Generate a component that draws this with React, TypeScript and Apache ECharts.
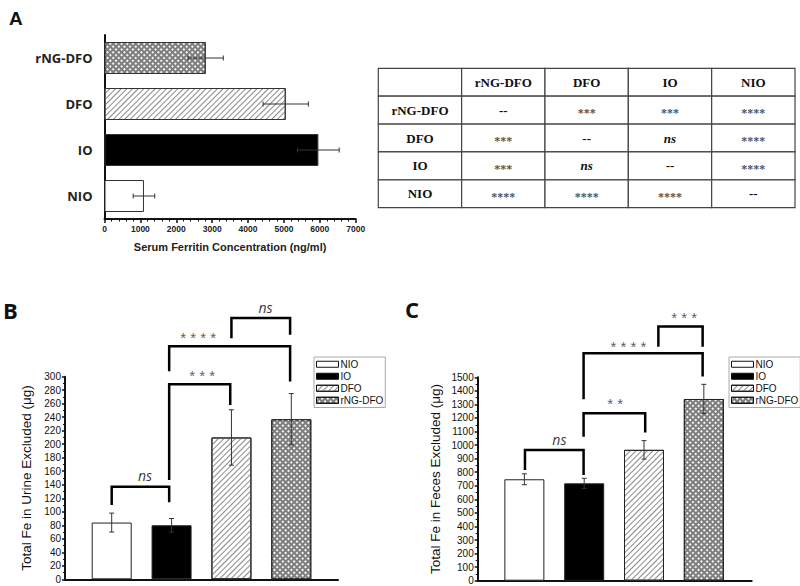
import React, { useEffect, useRef } from "react";
import * as echarts from "echarts";

const groups = ["NIO", "IO", "DFO", "rNG-DFO"];
const ferritinMean = [1100, 5960, 5050, 2820];
const ferritinErr = [300, 580, 630, 490];
const urineMean = [84, 80, 210, 237];
const urineErr = [14, 10, 41, 38];
const fecesMean = [748, 718, 965, 1340];
const fecesErr = [40, 37, 68, 108];

const tableHeader = ["", "rNG-DFO", "DFO", "IO", "NIO"];
const tableRowNames = ["rNG-DFO", "DFO", "IO", "NIO"];
const tableCells = [
  ["--", "***", "***", "****"],
  ["***", "--", "ns", "****"],
  ["***", "ns", "--", "****"],
  ["****", "****", "****", "--"],
];

// [xLeft, yLeftFoot, xRight, yRightFoot, yTop]
const urineBrackets = [
  [0, 110, 0.96, 114, 137],
  [0.96, 147, 1.98, 258, 289],
  [0.96, 308, 2.98, 293, 345],
  [2.0, 357, 2.98, 362, 387],
];
const urineMarks: [number, number, string][] = [
  [0.556, 153.5, "ns"],
  [1.51, 307.5, "***"],
  [1.446, 363.4, "****"],
  [2.57, 403, "ns"],
];
const fecesBrackets = [
  [0.01, 817, 0.99, 780, 964],
  [0.99, 1062, 2.02, 1092, 1235],
  [0.99, 1338, 2.98, 1505, 1678],
  [2.24, 1726, 2.98, 1726, 1874],
];
const fecesMarks: [number, number, string][] = [
  [0.585, 1043, "ns"],
  [1.517, 1333, "**"],
  [1.739, 1756, "****"],
  [2.67, 1968, "***"],
];

const hatch = {
  symbol: "rect",
  symbolSize: 1,
  color: "#8a8a8a",
  dashArrayX: [1, 0],
  dashArrayY: [1, 2.6],
  rotation: -Math.PI / 4,
};
const cross = {
  symbol: "rect",
  symbolSize: 1,
  color: "#f4f4f4",
  dashArrayX: [1.2, 1.8],
  dashArrayY: [1.2, 1.8],
  rotation: Math.PI / 4,
};
const groupStyle: Record<string, any> = {
  NIO: { color: "#ffffff" },
  IO: { color: "#000000" },
  DFO: { color: "#ffffff", decal: hatch },
  "rNG-DFO": { color: "#7e7e7e", decal: cross },
};

const SANS = "'Liberation Sans', Arial, sans-serif";
const SERIF = "'Liberation Serif', 'Times New Roman', serif";
const plain = (v: number) => String(v);

function vErr(params: any, api: any) {
  const x = api.value(0), m = api.value(1), e = api.value(2);
  const top = api.coord([x, m + e]);
  const bot = api.coord([x, m - e]);
  const w = 2.5;
  const st = { stroke: "#333", lineWidth: 1 };
  return {
    type: "group",
    children: [
      { type: "line", shape: { x1: top[0], y1: top[1], x2: bot[0], y2: bot[1] }, style: st },
      { type: "line", shape: { x1: top[0] - w, y1: top[1], x2: top[0] + w, y2: top[1] }, style: st },
      { type: "line", shape: { x1: bot[0] - w, y1: bot[1], x2: bot[0] + w, y2: bot[1] }, style: st },
    ],
  };
}

function hErr(params: any, api: any) {
  const m = api.value(0), c = api.value(1), e = api.value(2);
  const l = api.coord([m - e, c]);
  const r = api.coord([m + e, c]);
  const h = 2.5;
  const st = { stroke: "#333", lineWidth: 1 };
  return {
    type: "group",
    children: [
      { type: "line", shape: { x1: l[0], y1: l[1], x2: r[0], y2: r[1] }, style: st },
      { type: "line", shape: { x1: l[0], y1: l[1] - h, x2: l[0], y2: l[1] + h }, style: st },
      { type: "line", shape: { x1: r[0], y1: r[1] - h, x2: r[0], y2: r[1] + h }, style: st },
    ],
  };
}

function bracketItem(params: any, api: any) {
  const xl = api.value(0), yl = api.value(1), xr = api.value(2), yr = api.value(3), yt = api.value(4);
  const p1 = api.coord([xl, yl]);
  const p2 = api.coord([xl, yt]);
  const p3 = api.coord([xr, yt]);
  const p4 = api.coord([xr, yr]);
  return {
    type: "polyline",
    shape: { points: [p1, p2, p3, p4] },
    style: { stroke: "#000", lineWidth: 2.5, fill: "none", lineJoin: "miter" },
  };
}

function panelSeries(idx: number, means: number[], errs: number[], brackets: number[][], marks: [number, number, string][]) {
  const out: any[] = [];
  groups.forEach((g, i) => {
    out.push({
      type: "bar",
      name: g,
      xAxisIndex: idx,
      yAxisIndex: idx,
      data: [[i, means[i]]],
      barWidth: 40,
      barGap: "-100%",
      itemStyle: { ...groupStyle[g], borderColor: "#222", borderWidth: 1 },
      z: 2,
    });
  });
  out.push({
    type: "custom",
    xAxisIndex: idx,
    yAxisIndex: idx,
    data: means.map((m, i) => [i, m, errs[i]]),
    renderItem: vErr,
    z: 3,
  });
  out.push({
    type: "custom",
    xAxisIndex: idx,
    yAxisIndex: idx,
    clip: false,
    dimensions: ["xl", "yl", "xr", "yr", "yt"],
    encode: { x: [0, 2], y: [1, 3, 4] },
    data: brackets,
    renderItem: bracketItem,
    z: 4,
  });
  out.push({
    type: "scatter",
    xAxisIndex: idx,
    yAxisIndex: idx,
    symbolSize: 0,
    clip: false,
    z: 5,
    data: marks.map((m) => {
      const isNs = m[2] === "ns";
      return {
        value: [m[0], m[1]],
        label: isNs
          ? { show: true, position: "inside", formatter: "ns", fontStyle: "italic", fontSize: 14, fontFamily: "'Open Sans', sans-serif", color: "#000" }
          : { show: true, position: "inside", formatter: m[2].split("").join(" "), fontSize: 15, fontFamily: SANS, color: "#333", offset: [0, 4] },
      };
    }),
  });
  return out;
}

function yValueAxis(idx: number, max: number, interval: number, name: string, gap: number) {
  return {
    type: "value",
    gridIndex: idx,
    min: 0,
    max,
    interval,
    name,
    nameLocation: "middle",
    nameGap: gap,
    nameTextStyle: { fontSize: 13.5, fontFamily: SANS, color: "#111" },
    axisLine: { show: true, onZero: false, lineStyle: { color: "#111", width: 2 } },
    axisTick: { show: true, length: 3, lineStyle: { color: "#111", width: 1.5 } },
    minorTick: { show: true, splitNumber: 2, length: 2, lineStyle: { color: "#111", width: 1 } },
    splitLine: { show: false },
    axisLabel: { fontSize: 10, fontFamily: SANS, color: "#111", margin: 4, formatter: plain },
  };
}

function xPosAxis(idx: number, max: number) {
  return {
    type: "value",
    gridIndex: idx,
    min: -0.78,
    max,
    axisLine: { show: true, onZero: false, lineStyle: { color: "#111", width: 2 } },
    axisTick: { show: false },
    axisLabel: { show: false },
    splitLine: { show: false },
  };
}

function legendAt(left: number, top: number) {
  return {
    orient: "vertical",
    left,
    top,
    data: groups,
    icon: "rect",
    itemWidth: 22,
    itemHeight: 6,
    itemGap: 1.5,
    itemStyle: { borderColor: "#111", borderWidth: 1 },
    padding: [2, 2, 2, 2],
    borderColor: "#aaa",
    borderWidth: 1,
    selectedMode: false,
    textStyle: { fontSize: 10, fontFamily: SANS, color: "#111", lineHeight: 10.5, padding: [0, 0, 0, -3] },
  };
}

function tableGraphic() {
  const left = 378.3, top = 68.3, colW = 83.34, rowH = 27.88;
  const children: any[] = [];
  const rows = [tableHeader, ...tableRowNames.map((r, i) => [r, ...tableCells[i]])];
  rows.forEach((row, ri) => {
    row.forEach((txt, ci) => {
      const x = left + ci * colW, y = top + ri * rowH;
      children.push({
        type: "rect",
        shape: { x, y, width: colW, height: rowH },
        style: { fill: "#fff", stroke: "#444", lineWidth: 1.2 },
      });
      if (!txt) return;
      const isHead = ri === 0 || ci === 0;
      const isStar = !isHead && txt.indexOf("*") === 0;
      const isNs = !isHead && txt === "ns";
      children.push({
        type: "text",
        x: x + colW / 2,
        y: y + rowH / 2 + (isStar ? 3 : 0),
        style: {
          text: txt,
          align: "center",
          verticalAlign: "middle",
          fontFamily: SERIF,
          fontWeight: "bold",
          fontStyle: isNs ? "italic" : "normal",
          fontSize: isStar ? 12 : 13,
          fill: isStar ? "#555" : "#111",
        },
      });
    });
  });
  return { type: "group", children };
}

export default function App() {
  const ref = useRef<HTMLDivElement>(null);
  useEffect(() => {
    if (!ref.current) return;
    const chart = echarts.init(ref.current, undefined, { renderer: "svg" });
    const option: any = {
      animation: false,
      backgroundColor: "#ffffff",
      grid: [
        { left: 104.5, top: 35, width: 251.2, height: 184 },
        { left: 65, top: 376.7, width: 273, height: 202.6 },
        { left: 477.7, top: 377.3, width: 274, height: 203.4 },
      ],
      legend: [legendAt(314, 357), legendAt(729, 357)],
      xAxis: [
        {
          type: "value",
          gridIndex: 0,
          min: 0,
          max: 7000,
          interval: 1000,
          name: "Serum Ferritin Concentration (ng/ml)",
          nameLocation: "middle",
          nameGap: 22,
          nameTextStyle: { fontSize: 11, fontWeight: "bold", fontFamily: SANS, color: "#222" },
          axisLine: { show: true, lineStyle: { color: "#111", width: 2 } },
          axisTick: { show: true, length: 4, lineStyle: { color: "#111", width: 1.5 } },
          minorTick: { show: true, splitNumber: 5, length: 2.5, lineStyle: { color: "#111", width: 1 } },
          splitLine: { show: false },
          axisLabel: { fontSize: 8.5, fontWeight: "bold", fontFamily: SANS, color: "#222", margin: 5, formatter: plain },
        },
        xPosAxis(1, 3.78),
        xPosAxis(2, 3.8),
      ],
      yAxis: [
        {
          type: "category",
          gridIndex: 0,
          data: groups,
          axisLine: { show: true, lineStyle: { color: "#111", width: 2 } },
          axisTick: { show: false },
          axisLabel: { fontSize: 13, fontWeight: "bold", fontFamily: "'Open Sans', sans-serif", color: "#222", margin: 12 },
        },
        yValueAxis(1, 300, 20, "Total Fe in Urine Excluded (μg)", 32),
        yValueAxis(2, 1500, 100, "Total Fe in Feces Excluded (μg)", 35),
      ],
      series: [
        {
          type: "bar",
          name: "Serum ferritin",
          xAxisIndex: 0,
          yAxisIndex: 0,
          barWidth: 32,
          data: ferritinMean.map((v, i) => ({
            value: v,
            itemStyle: { ...groupStyle[groups[i]], borderColor: "#333", borderWidth: 1 },
          })),
        },
        {
          type: "custom",
          xAxisIndex: 0,
          yAxisIndex: 0,
          data: ferritinMean.map((m, i) => [m, i, ferritinErr[i]]),
          renderItem: hErr,
          z: 3,
        },
        ...panelSeries(1, urineMean, urineErr, urineBrackets, urineMarks),
        ...panelSeries(2, fecesMean, fecesErr, fecesBrackets, fecesMarks),
      ],
      graphic: [
        { type: "text", x: 9, y: 18.5, style: { text: "A", fontSize: 19, fontWeight: "bold", fontFamily: SANS, fill: "#111", verticalAlign: "middle" } },
        { type: "text", x: 3, y: 310, style: { text: "B", fontSize: 22, fontWeight: "bold", fontFamily: "'Open Sans', sans-serif", fill: "#111", verticalAlign: "middle" } },
        { type: "text", x: 405, y: 309, style: { text: "C", fontSize: 22, fontWeight: "bold", fontFamily: "'Open Sans', sans-serif", fill: "#111", verticalAlign: "middle" } },
        tableGraphic(),
      ],
    };
    chart.setOption(option);
    return () => chart.dispose();
  }, []);
  return (
    <div
      ref={ref}
      style={{ position: "fixed", left: 0, top: 0, width: 800, height: 586, background: "#fff" }}
    />
  );
}
